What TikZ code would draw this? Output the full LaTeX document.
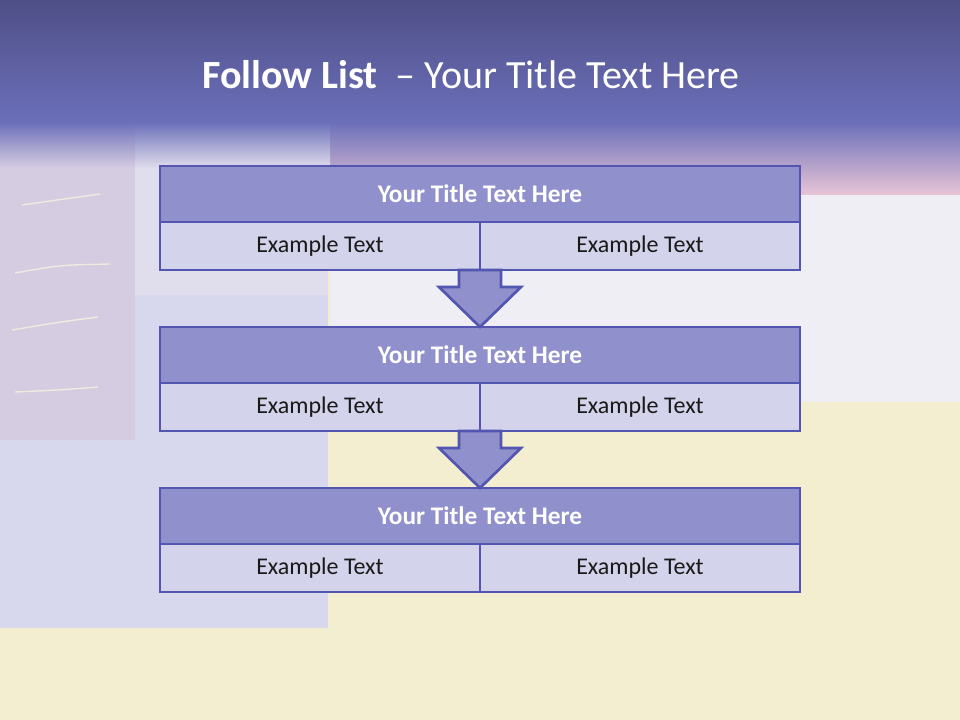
\documentclass[tikz,border=0pt]{standalone}
\usepackage{fontspec}
\setmainfont{Carlito}
\usetikzlibrary{positioning,calc}

\definecolor{bandtop}{HTML}{4F4F87}
\definecolor{bandlow}{HTML}{6B6FB9}
\definecolor{mauve}{HTML}{D6CCE1}
\definecolor{lilac}{HTML}{D7D8EE}
\definecolor{paleback}{HTML}{EFEEF5}
\definecolor{whitelav}{HTML}{E0DDEC}
\definecolor{pinkstrip}{HTML}{E7C5D6}
\definecolor{cream}{HTML}{F2EECF}
\definecolor{headfill}{HTML}{8F90CC}
\definecolor{cellfill}{HTML}{D3D3EB}
\definecolor{edge}{HTML}{5356B0}

\tikzset{
  titlebox/.style={draw=edge,fill=headfill,line width=2.2pt,minimum width=480pt,
    minimum height=42pt,inner sep=0pt,outer sep=0pt,text=white,
    font=\fontsize{19}{23}\selectfont\bfseries},
  cellbox/.style={draw=edge,fill=cellfill,line width=2.2pt,minimum width=240pt,
    minimum height=36pt,inner sep=0pt,outer sep=0pt,text=black!90,
    font=\fontsize{18}{22}\selectfont},
  flowarrow/.style={draw=edge,fill=headfill,line width=2pt,line join=miter},
  brush/.style={draw=cream!70!white,line width=1pt,opacity=0.8}
}

\begin{document}
\begin{tikzpicture}[x=0.75pt,y=-0.75pt,node distance=42.75pt]
  \useasboundingbox (0,0) rectangle (960,720);

  % painted background
  \fill[cream] (0,0) rectangle (960,720);
  \fill[paleback] (330,150) rectangle (960,402);
  \fill[lilac] (0,150) rectangle (328,628);
  \fill[whitelav] (135,150) rectangle (328,295);
  \fill[mauve] (0,150) rectangle (135,440);
  \draw[brush] (22,205) .. controls (50,201) .. (100,194);
  \draw[brush] (15,273) .. controls (60,265) .. (110,264);
  \draw[brush] (12,330) .. controls (60,322) .. (98,317);
  \draw[brush] (15,392) .. controls (60,390) .. (98,387);

  % title band
  \shade[top color=bandtop,bottom color=bandlow] (0,0) rectangle (960,122);
  \shade[top color=bandlow,bottom color=pinkstrip] (330,122) rectangle (960,195);
  \shade[top color=bandlow,bottom color=whitelav] (135,122) rectangle (330,168);
  \shade[top color=bandlow,bottom color=mauve] (0,122) rectangle (135,168);

  \node[text=white,font=\fontsize{30}{36}\selectfont] (head) at (471,75)
    {\textbf{Follow List}\ \ -- Your Title Text Here};

  % blocks
  \node[titlebox] (t1) at (480,194) {Your Title Text Here};
  \node[cellbox,below right=0pt and 0pt of t1.south west] (l1) {Example Text};
  \node[cellbox,right=0pt of l1] (r1) {Example Text};

  \node[titlebox,below=of l1.south east] (t2) {Your Title Text Here};
  \node[cellbox,below right=0pt and 0pt of t2.south west] (l2) {Example Text};
  \node[cellbox,right=0pt of l2] (r2) {Example Text};

  \node[titlebox,below=of l2.south east] (t3) {Your Title Text Here};
  \node[cellbox,below right=0pt and 0pt of t3.south west] (l3) {Example Text};
  \node[cellbox,right=0pt of l3] (r3) {Example Text};

  % arrows
  \draw[flowarrow] ($(l1.south east)+(-21,0)$) -- ($(l1.south east)+(21,0)$)
    -- ($(l1.south east)+(21,17)$) -- ($(l1.south east)+(41,17)$) -- (t2.north)
    -- ($(l1.south east)+(-41,17)$) -- ($(l1.south east)+(-21,17)$) -- cycle;
  \draw[flowarrow] ($(l2.south east)+(-21,0)$) -- ($(l2.south east)+(21,0)$)
    -- ($(l2.south east)+(21,17)$) -- ($(l2.south east)+(41,17)$) -- (t3.north)
    -- ($(l2.south east)+(-41,17)$) -- ($(l2.south east)+(-21,17)$) -- cycle;
\end{tikzpicture}
\end{document}
